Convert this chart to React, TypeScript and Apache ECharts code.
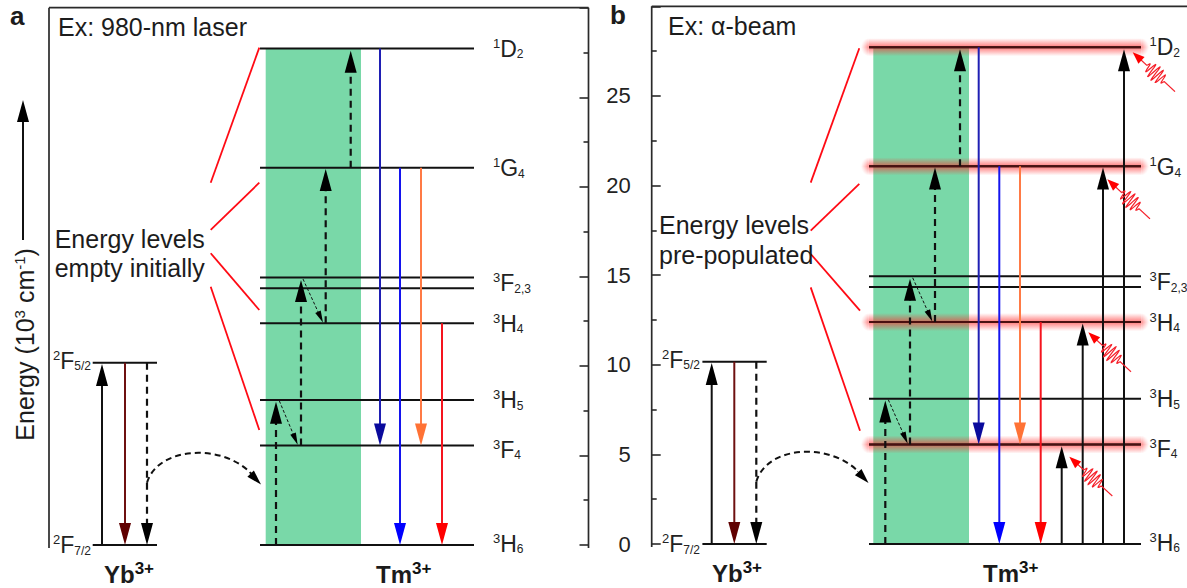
import React, { useEffect, useRef } from "react";
import * as echarts from "echarts";

const FONT = "'Liberation Sans', Arial, sans-serif";

// Energies in 10^3 cm^-1
const tmLevelEnergies = [0, 5.55, 8.1, 12.38, 14.34, 14.94, 21.07, 27.72];
const tmLevelLabels = ["{sup|3}H{sub|6}", "{sup|3}F{sub|4}", "{sup|3}H{sub|5}", "{sup|3}H{sub|4}", "", "{sup|3}F{sub|2,3}", "{sup|1}G{sub|4}", "{sup|1}D{sub|2}"];
const tmLabelDy = [-1.5, 4, 0.5, 0.5, 0, 6, 0.7, 0];
const ybLevelEnergies = [0, 10.17];
const ybLevelLabels = ["{sup|2}F{sub|7/2}", "{sup|2}F{sub|5/2}"];
const ybLabelDy = [0, -2];

const xSpansA = { tm: [260, 474], yb: [92.7, 157], green: [265.7, 361], tmLabel: 493, ybLabel: 91 };
const xSpansB = { tm: [869, 1141], yb: [702.4, 766.7], green: [873.3, 969], tmLabel: 1149.5, ybLabel: 700 };

const arrowColors = ["#111111", "#1f1fb4", "#1414ee", "#ff7a45", "#f5141e", "#6e1010"];
const headColors = ["#000000", "#0a0a9c", "#0000ff", "#ff7235", "#ff0000", "#600000"];

// x1, e1, x2, e2, colour index, style index (0 solid, 1 dashed, 2 thin dashed, 3 curve head)
const arrowsA = [
  [23, 17.03, 23, 24.85, 0, 0],
  [102, 0, 102, 10.1, 0, 0],
  [125, 10.17, 125, 0, 5, 0],
  [147, 10.17, 147, 0, 0, 1],
  [249.5, 4.05, 261, 3.38, 0, 3],
  [276, 0, 276, 8.0, 0, 1],
  [279.3, 8.05, 297.7, 5.6, 0, 2],
  [301, 5.55, 301, 14.8, 0, 1],
  [303, 14.85, 323, 12.42, 0, 2],
  [325.7, 12.38, 325.7, 21.0, 0, 1],
  [350.7, 21.07, 350.7, 27.6, 0, 1],
  [380, 27.72, 380, 5.55, 1, 0],
  [400, 21.07, 400, 0, 2, 0],
  [421, 21.07, 421, 5.55, 3, 0],
  [442, 12.38, 442, 0, 4, 0],
];
const arrowsB = [
  [711.7, 0, 711.7, 10.1, 0, 0],
  [734.3, 10.17, 734.3, 0, 5, 0],
  [756.3, 10.17, 756.3, 0, 0, 1],
  [857.5, 4.05, 868.5, 3.4, 0, 3],
  [885.3, 0, 885.3, 8.0, 0, 1],
  [888.3, 8.05, 907.7, 5.6, 0, 2],
  [910, 5.55, 910, 14.8, 0, 1],
  [912.7, 14.85, 932.3, 12.42, 0, 2],
  [935, 12.38, 935, 21.0, 0, 1],
  [960, 21.07, 960, 27.6, 0, 1],
  [978.7, 27.72, 978.7, 5.55, 1, 0],
  [999.3, 21.07, 999.3, 0, 2, 0],
  [1020, 21.07, 1020, 5.55, 3, 0],
  [1040.7, 12.38, 1040.7, 0, 4, 0],
  [1061.7, 0, 1061.7, 5.45, 0, 0],
  [1082.7, 0, 1082.7, 12.3, 0, 0],
  [1103, 0, 1103, 21.0, 0, 0],
  [1124, 0, 1124, 27.6, 0, 0],
];

// x1, e1, cx1, ce1, cx2, ce2, x2, e2
const curvesA = [[147, 3.48, 158, 5.5, 222, 5.7, 251, 4.0]];
const curvesB = [[756.3, 3.48, 767, 5.5, 830, 5.7, 859, 4.0]];

// x1, e1, x2, e2
const redLinesA = [
  [259.3, 27.77, 210.7, 20.23],
  [259.3, 20.23, 210.7, 17.59],
  [210.7, 16.29, 259.3, 13.12],
  [210.7, 14.42, 259.3, 6.42],
];
const redLinesB = [
  [859.3, 27.66, 810.7, 20.16],
  [859.3, 20.09, 810.7, 17.48],
  [810.7, 16.18, 860, 13.02],
  [810.7, 14.32, 860, 6.32],
];

const frameA = [
  [49, -0.17, 49, 30],
  [49, 30, 588.5, 30],
  [588.5, -0.17, 588.5, 30],
];
const frameB = [
  [651.7, -0.17, 651.7, 30],
  [651.7, 30, 1187, 30],
];

const glowEnergies = [5.55, 12.38, 21.07, 27.72];
// tail x, tail e, tip x, tip e
const radiationArrows = [
  [1175, 25.24, 1132.7, 27.44],
  [1150, 18.14, 1107.3, 20.35],
  [1131, 9.61, 1088.3, 11.81],
  [1112.3, 2.68, 1069.3, 4.87],
];

const textsA = [
  { x: 10, e: 29.55, text: "a", size: 26, weight: "bold" },
  { x: 58, e: 28.95, text: "Ex: 980-nm laser", size: 25 },
  { x: 54.7, e: 17.1, text: "Energy levels", size: 25 },
  { x: 54.7, e: 15.48, text: "empty initially", size: 25 },
  { x: 104, e: -1.62, text: "Yb{bsup|3+}", size: 24, weight: "bold" },
  { x: 376, e: -1.62, text: "Tm{bsup|3+}", size: 24, weight: "bold" },
];
const textsB = [
  { x: 610, e: 29.5, text: "b", size: 26, weight: "bold" },
  { x: 668, e: 28.9, text: "Ex: \u03b1-beam", size: 25 },
  { x: 659, e: 17.8, text: "Energy levels", size: 25 },
  { x: 659, e: 16.13, text: "pre-populated", size: 25 },
  { x: 712, e: -1.62, text: "Yb{bsup|3+}", size: 24, weight: "bold" },
  { x: 983, e: -1.62, text: "Tm{bsup|3+}", size: 24, weight: "bold" },
];
const axisTitle = "Energy (10{tsup|3} cm{tsup|-1})";

const richStyles = {
  sup: { fontSize: 13, fontFamily: FONT, fill: "#222", verticalAlign: "top", lineHeight: 13, height: 13 },
  sub: { fontSize: 12, fontFamily: FONT, fill: "#222", verticalAlign: "bottom", lineHeight: 13, height: 13 },
  bsup: { fontSize: 17, fontWeight: "bold", fontFamily: FONT, fill: "#111", verticalAlign: "top", lineHeight: 17, height: 17 },
  tsup: { fontSize: 15, fontFamily: FONT, fill: "#222", verticalAlign: "top", lineHeight: 15, height: 15 },
};

const lineEl = (a: number[], b: number[], stroke: string, lineWidth: number, lineDash?: number[]) => ({
  type: "line",
  shape: { x1: a[0], y1: a[1], x2: b[0], y2: b[1] },
  style: { stroke, lineWidth, fill: "none", lineDash },
});

const renderSegment = (stroke: string, lineWidth: number) => (_p: any, api: any) =>
  lineEl(api.coord([api.value(0), api.value(1)]), api.coord([api.value(2), api.value(3)]), stroke, lineWidth);

const ARROW_STYLES = [
  { w: 2, headW: 12, headL: 22, dash: undefined },
  { w: 2.2, headW: 12, headL: 22, dash: [7, 5] },
  { w: 1, headW: 6, headL: 12, dash: [3, 2] },
  { w: 1, headW: 9, headL: 15, dash: undefined },
];

const renderArrow = (_p: any, api: any) => {
  const a = api.coord([api.value(0), api.value(1)]);
  const b = api.coord([api.value(2), api.value(3)]);
  const colorIdx = api.value(4);
  const st = ARROW_STYLES[api.value(5)];
  const len = Math.hypot(b[0] - a[0], b[1] - a[1]);
  const ux = (b[0] - a[0]) / len;
  const uy = (b[1] - a[1]) / len;
  const base = [b[0] - ux * st.headL, b[1] - uy * st.headL];
  const hw = st.headW / 2;
  return {
    type: "group",
    children: [
      lineEl(a, [base[0] + ux, base[1] + uy], arrowColors[colorIdx], st.w, st.dash),
      {
        type: "polygon",
        shape: { points: [b, [base[0] - uy * hw, base[1] + ux * hw], [base[0] + uy * hw, base[1] - ux * hw]] },
        style: { fill: headColors[colorIdx] },
      },
    ],
  };
};

const renderCurve = (_p: any, api: any) => {
  const p = [0, 2, 4, 6].map((i) => api.coord([api.value(i), api.value(i + 1)]));
  return {
    type: "bezierCurve",
    shape: { x1: p[0][0], y1: p[0][1], cpx1: p[1][0], cpy1: p[1][1], cpx2: p[2][0], cpy2: p[2][1], x2: p[3][0], y2: p[3][1] },
    style: { stroke: "#111", lineWidth: 2, fill: "none", lineDash: [6, 4] },
  };
};

const renderRadiation = (_p: any, api: any) => {
  const tail = api.coord([api.value(0), api.value(1)]);
  const tip = api.coord([api.value(2), api.value(3)]);
  const len = Math.hypot(tip[0] - tail[0], tip[1] - tail[1]);
  const ux = (tip[0] - tail[0]) / len;
  const uy = (tip[1] - tail[1]) / len;
  const mid = len * 0.46;
  const waveLen = 24;
  const pts: number[][] = [];
  for (let s = 0; s <= len - 9; s += 0.3) {
    const d = (s - mid) / (waveLen / 2);
    const env = Math.abs(d) < 1 ? Math.sqrt(Math.cos((d * Math.PI) / 2)) : 0;
    const off = 8 * env * Math.sin(d * Math.PI * 5);
    pts.push([tail[0] + ux * s - uy * off, tail[1] + uy * s + ux * off]);
  }
  const base = [tip[0] - ux * 12, tip[1] - uy * 12];
  return {
    type: "group",
    children: [
      { type: "polyline", shape: { points: pts }, style: { stroke: "#f5202a", lineWidth: 1.2, fill: "none" } },
      {
        type: "polygon",
        shape: { points: [tip, [base[0] - uy * 4.5, base[1] + ux * 4.5], [base[0] + uy * 4.5, base[1] - ux * 4.5]] },
        style: { fill: "#ff0000" },
      },
    ],
  };
};

const glowFill = (alpha: number) => ({
  type: "linear",
  x: 0,
  y: 0,
  x2: 0,
  y2: 1,
  colorStops: [
    { offset: 0, color: "rgba(255,40,40,0)" },
    { offset: 0.5, color: `rgba(255,40,40,${alpha})` },
    { offset: 1, color: "rgba(255,40,40,0)" },
  ],
});

const renderGlow = (_p: any, api: any) => {
  const a = api.coord([api.value(0), api.value(1)]);
  const b = api.coord([api.value(2), api.value(3)]);
  const h = 18;
  const peak = 0.62;
  const children: any[] = [
    {
      type: "rect",
      shape: { x: a[0], y: a[1] - h / 2, width: b[0] - a[0], height: h },
      style: { fill: glowFill(peak) },
    },
  ];
  // the glow fades out past both ends of the level
  const steps = 8;
  for (let i = 0; i < steps; i++) {
    const t = (i + 0.5) / steps;
    const k = Math.sqrt(Math.max(0, 1 - t * t));
    const ch = h * k;
    const alpha = peak * (1 - t) * (1 - t * 0.3);
    [a[0] - i - 1.2, b[0] + i + 0.2].forEach((x) => {
      children.push({
        type: "rect",
        shape: { x, y: a[1] - ch / 2, width: 1, height: ch },
        style: { fill: glowFill(Number(alpha.toFixed(3))) },
      });
    });
  }
  return { type: "group", children };
};

const custom = (idx: number, data: any[], renderItem: any, extra: any = {}) => ({
  type: "custom",
  xAxisIndex: idx,
  yAxisIndex: idx,
  data,
  renderItem,
  silent: true,
  clip: false,
  ...extra,
});

const renderText = (items: any[]) => (p: any, api: any) => {
  const it = items[p.dataIndex];
  const c = api.coord([api.value(0), api.value(1)]);
  return {
    type: "text",
    x: c[0],
    y: c[1],
    style: {
      text: it.text,
      fontFamily: FONT,
      fontSize: it.size,
      fontWeight: it.weight || "normal",
      fill: "#1c1c1c",
      align: "left",
      verticalAlign: "middle",
      lineHeight: 28,
      rich: richStyles,
    },
  };
};

const renderLevelLabel = (labels: string[], dys: number[], align: string) => (p: any, api: any) => {
  const c = api.coord([api.value(0), api.value(1)]);
  return {
    type: "text",
    x: c[0],
    y: c[1] + dys[p.dataIndex],
    style: {
      text: labels[p.dataIndex],
      fontFamily: FONT,
      fontSize: 23,
      fill: "#222",
      align,
      verticalAlign: "middle",
      lineHeight: 24,
      rich: richStyles,
    },
  };
};

function panelSeries(idx: number, spans: any, arrows: number[][], curves: number[][], reds: number[][], frame: number[][], texts: any[], glow: number[]) {
  const top = tmLevelEnergies[tmLevelEnergies.length - 1];
  const levelSegs = tmLevelEnergies.map((e) => [spans.tm[0], e, spans.tm[1], e]);
  const ybSegs = ybLevelEnergies.map((e) => [spans.yb[0], e, spans.yb[1], e]);
  const glowSegs = glow.map((e) => [spans.tm[0], e, spans.tm[1], e]);
  return [
    custom(idx, [[spans.green[0], top, spans.green[1], 0.06]], (_p: any, api: any) => {
      const a = api.coord([api.value(0), api.value(1)]);
      const b = api.coord([api.value(2), api.value(3)]);
      return {
        type: "rect",
        shape: { x: a[0], y: a[1], width: b[0] - a[0], height: b[1] - a[1] },
        style: { fill: "#79d8a8" },
      };
    }),
    custom(idx, glowSegs, renderGlow),
    custom(idx, frame, renderSegment("#2a2a2a", 1.7)),
    custom(idx, reds, renderSegment("#ff0a14", 1.8)),
    custom(idx, levelSegs, renderSegment("#111", 2)),
    custom(idx, glowSegs, renderSegment("#4a1010", 2)),
    custom(idx, ybSegs, renderSegment("#111", 2)),
    custom(idx, arrows, renderArrow),
    custom(idx, curves, renderCurve),
    custom(idx, texts.map((t) => [t.x, t.e]), renderText(texts)),
    custom(idx, tmLevelEnergies.map((e) => [spans.tmLabel, e]), renderLevelLabel(tmLevelLabels, tmLabelDy, "left")),
    custom(idx, ybLevelEnergies.map((e) => [spans.ybLabel, e]), renderLevelLabel(ybLevelLabels, ybLabelDy, "right")),
  ];
}

export default function App() {
  const ref = useRef<HTMLDivElement>(null);
  useEffect(() => {
    const chart = echarts.init(ref.current!, undefined, { renderer: "svg" });
    const yBase = {
      type: "value",
      min: 0,
      max: 30,
      interval: 5,
      splitLine: { show: false },
      axisLine: { show: false },
      axisTick: { show: true, inside: true, length: 9, lineStyle: { color: "#2a2a2a", width: 1.6 } },
      minorTick: { show: true, splitNumber: 2, length: 5, lineStyle: { color: "#2a2a2a", width: 1.6 } },
    };
    chart.setOption({
      animation: false,
      backgroundColor: "#ffffff",
      grid: [
        { left: 49, top: 7.7, width: 539.5, height: 537.3 },
        { left: 651.7, top: 6.3, width: 535.3, height: 537.7 },
      ],
      xAxis: [
        { type: "value", gridIndex: 0, min: 49, max: 588.5, show: false },
        { type: "value", gridIndex: 1, min: 651.7, max: 1187, show: false },
      ],
      yAxis: [
        { ...yBase, gridIndex: 0, position: "right", axisLabel: { show: false } },
        {
          ...yBase,
          gridIndex: 1,
          position: "left",
          axisLabel: { show: true, showMaxLabel: false, margin: 21, fontFamily: FONT, fontSize: 22, color: "#222" },
        },
      ],
      series: [
        ...panelSeries(0, xSpansA, arrowsA, curvesA, redLinesA, frameA, textsA, []),
        ...panelSeries(1, xSpansB, arrowsB, curvesB, redLinesB, frameB, textsB, glowEnergies),
        custom(1, radiationArrows, renderRadiation),
        custom(0, [[25, 11.2]], (_p: any, api: any) => {
          const c = api.coord([api.value(0), api.value(1)]);
          return {
            type: "text",
            x: c[0],
            y: c[1],
            rotation: Math.PI / 2,
            style: {
              text: axisTitle,
              fontFamily: FONT,
              fontSize: 25,
              fill: "#1c1c1c",
              align: "center",
              verticalAlign: "middle",
              lineHeight: 26,
              rich: richStyles,
            },
          };
        }),
      ],
    });
    return () => chart.dispose();
  }, []);
  return <div ref={ref} style={{ position: "fixed", left: 0, top: 0, width: 1187, height: 588 }} />;
}
